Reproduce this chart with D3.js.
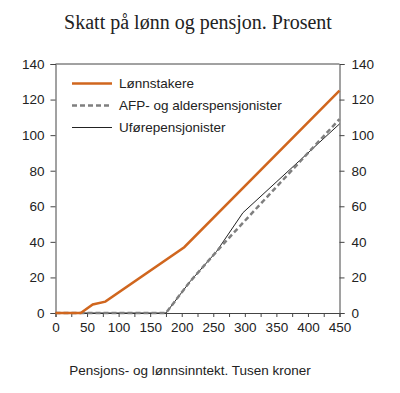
<!DOCTYPE html>
<html><head><meta charset="utf-8">
<script src="https://cdn.jsdelivr.net/npm/d3@7"></script>
<style>body{margin:0;background:#fff}svg{display:block}</style>
</head><body><svg id="c" width="400" height="393"></svg>
<script>
const title = "Skatt på lønn og pensjon. Prosent";
const xTitle = "Pensjons- og lønnsinntekt. Tusen kroner";
const seriesNames = ["Lønnstakere", "AFP- og alderspensjonister", "Uførepensjonister"];
const lonnX = [0, 40, 59, 79, 204, 450];
const lonnY = [0, 0, 4.8, 6.4, 37, 125];
const afpX = [0, 175, 213, 255, 269, 450];
const afpY = [0, 0, 17.6, 34.5, 40, 109];
const uforX = [0, 175, 213, 255, 297, 450];
const uforY = [0, 0, 17.6, 34.5, 56.4, 106.3];
const yTicks = [0, 20, 40, 60, 80, 100, 120, 140];
const xLabels = [0, 50, 100, 150, 200, 250, 300, 350, 400, 450];
const xMinor = d3.range(0, 451, 25);

const svg = d3.select("#c");
const L = 55.5, R = 339.5, T = 64, B = 313;
const x = d3.scaleLinear().domain([0, 450]).range([L, R]);
const y = d3.scaleLinear().domain([0, 140]).range([B, T]);
const axisCol = "#444";
const font = "Liberation Sans, Arial, sans-serif";

svg.append("text").attr("x", 198).attr("y", 29).attr("text-anchor", "middle")
  .attr("font-family", "Liberation Serif, Times New Roman, serif").attr("font-size", 20)
  .attr("fill", "#222").text(title);

// top border
svg.append("line").attr("x1", L).attr("x2", R).attr("y1", T).attr("y2", T).attr("stroke", axisCol);

const gl = svg.append("g").attr("transform", `translate(${L},0)`)
  .call(d3.axisLeft(y).tickValues(yTicks).tickSize(5).tickPadding(6));
const gr = svg.append("g").attr("transform", `translate(${R},0)`)
  .call(d3.axisRight(y).tickValues(yTicks).tickSize(5).tickPadding(7));
const gb = svg.append("g").attr("transform", `translate(0,${B})`)
  .call(d3.axisBottom(x).tickValues(xMinor).tickSize(4).tickPadding(5)
    .tickFormat(d => xLabels.includes(d) ? d : ""));
[gl, gr, gb].forEach(g => {
  g.selectAll("path").attr("stroke", axisCol);
  g.selectAll("line").attr("stroke", axisCol);
  g.selectAll("text").attr("font-family", font).attr("font-size", 13.5).attr("fill", "#222");
});

svg.append("text").attr("x", 190).attr("y", 375).attr("text-anchor", "middle")
  .attr("font-family", font).attr("font-size", 13.5).attr("fill", "#222").text(xTitle);

const line = d3.line().x(d => x(d[0])).y(d => y(d[1]));
const mk = (xs, ys) => xs.map((v, i) => [v, ys[i]]);

svg.append("path").datum(mk(uforX, uforY)).attr("d", line).attr("fill", "none")
  .attr("stroke", "#222").attr("stroke-width", 1);
svg.append("path").datum(mk(afpX, afpY)).attr("d", line).attr("fill", "none")
  .attr("stroke", "#7f7f7f").attr("stroke-width", 2.5).attr("stroke-dasharray", "5,3");
svg.append("path").datum(mk(lonnX, lonnY)).attr("d", line).attr("fill", "none")
  .attr("stroke", "#d0661e").attr("stroke-width", 2.5);

// legend
const styles = [
  {c: "#d0661e", w: 2.5, d: null},
  {c: "#7f7f7f", w: 2.5, d: "5,3"},
  {c: "#222", w: 1, d: null}
];
seriesNames.forEach((n, i) => {
  const yy = 83.5 + i * 22;
  const l = svg.append("line").attr("x1", 72).attr("x2", 112).attr("y1", yy).attr("y2", yy)
    .attr("stroke", styles[i].c).attr("stroke-width", styles[i].w);
  if (styles[i].d) l.attr("stroke-dasharray", styles[i].d);
  svg.append("text").attr("x", 119).attr("y", yy + 4.5).attr("font-family", font)
    .attr("font-size", 13.5).attr("fill", "#222").text(n);
});
</script></body></html>
